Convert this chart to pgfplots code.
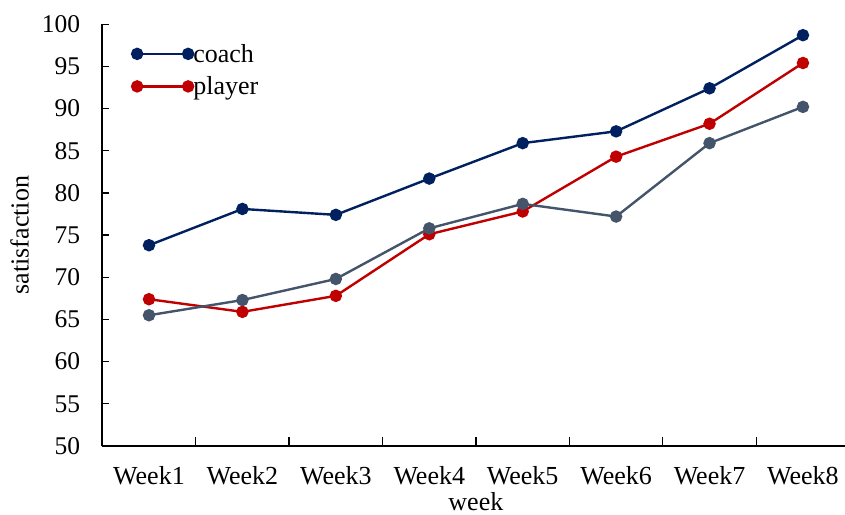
\documentclass[border=0pt]{standalone}
\usepackage{fontspec}
\setmainfont{Liberation Serif}
\usepackage{pgfplots}
\pgfplotsset{compat=1.18}

\definecolor{coachblue}{HTML}{002060}
\definecolor{playerred}{HTML}{C00000}
\definecolor{slategray}{HTML}{44546A}

\begin{document}
\begin{tikzpicture}
\begin{axis}[
  scale only axis,
  width=742.7bp, height=421.8bp,
  xmin=0.5, xmax=8.45,
  ymin=50, ymax=100,
  ytick={50,55,...,100},
  xtick={1,...,8},
  xticklabels={Week1,Week2,Week3,Week4,Week5,Week6,Week7,Week8},
  minor xtick={1.5,2.5,...,7.5},
  major x tick style={draw=none},
  minor x tick style={black, line width=1.3bp},
  minor tick length=9bp,
  major tick length=7bp,
  y tick style={black, line width=1.3bp},
  tick align=inside,
  axis x line*=bottom,
  axis y line*=left,
  axis line style={black, line width=2bp},
  clip=false,
  font=\fontsize{26bp}{31bp}\selectfont,
  /pgf/number format/assume math mode=true,
  yticklabel style={anchor=east, inner sep=0pt, xshift=-22bp, font=\fontsize{25.5bp}{30bp}\selectfont},
  xticklabel style={anchor=base, inner sep=0pt, yshift=-38.3bp},
  xlabel={week},
  ylabel={satisfaction},
  every axis x label/.style={at={(axis description cs:0.503,0)}, anchor=base, inner sep=0pt, yshift=-64bp},
  every axis y label/.style={at={(axis description cs:-0.0987,0.5)}, anchor=south, rotate=90, inner sep=0pt},
  legend style={at={(axis description cs:0.0383,0.958)}, anchor=north west, draw=none, fill=none,
    inner sep=0pt, row sep=9bp, nodes={inner xsep=0.5bp}, font=\fontsize{26bp}{31bp}\selectfont},
  legend cell align=left,
  legend image code/.code={
    \path (-5bp,0bp) -- (54.5bp,0bp);
    \draw[#1, mark=none, line width=2.4bp, overlay] (0bp,0bp) -- (51bp,0bp);
    \fill[#1] (0bp,0bp) circle (5bp);
    \fill[#1, overlay] (51bp,0bp) circle (5bp);
  },
  every axis plot/.append style={line width=2.4bp, mark=*, mark size=5bp},
]
\addplot[color=coachblue, mark options={fill=coachblue, draw=coachblue}] coordinates {
  (1,73.8) (2,78.1) (3,77.4) (4,81.7) (5,85.9) (6,87.3) (7,92.4) (8,98.7)};
\addlegendentry{coach}
\addplot[color=playerred, mark options={fill=playerred, draw=playerred}] coordinates {
  (1,67.4) (2,65.9) (3,67.8) (4,75.1) (5,77.8) (6,84.3) (7,88.2) (8,95.4)};
\addlegendentry{player}
\addplot[color=slategray, mark options={fill=slategray, draw=slategray}, forget plot] coordinates {
  (1,65.5) (2,67.3) (3,69.8) (4,75.8) (5,78.7) (6,77.2) (7,85.9) (8,90.2)};
\end{axis}
\pgfresetboundingbox
\path[use as bounding box] (-102.3bp,-69bp) rectangle (742.7bp,446bp);
\end{tikzpicture}
\end{document}
